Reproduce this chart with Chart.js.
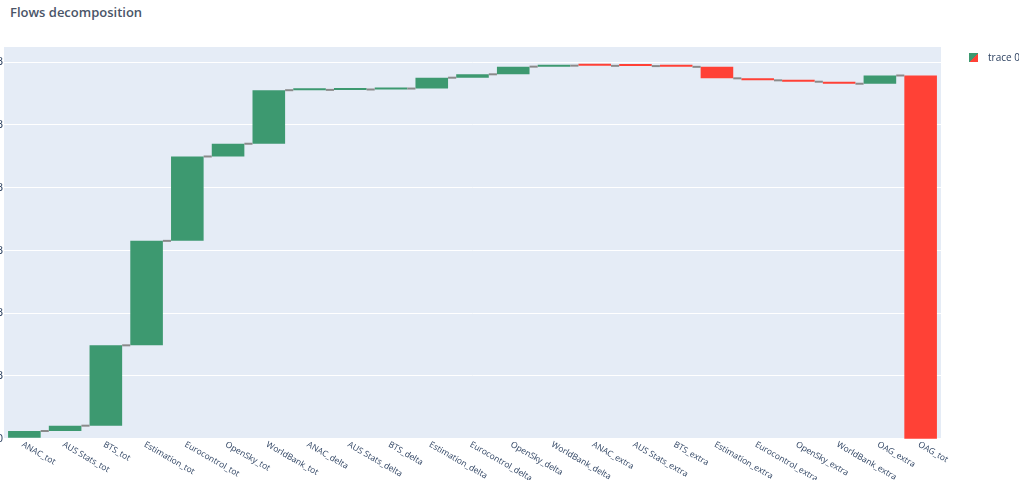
<!DOCTYPE html>
<html>
<head>
<meta charset="utf-8">
<script src="https://cdn.jsdelivr.net/npm/chart.js@4/dist/chart.umd.min.js"></script>
<style>
  html, body { margin: 0; padding: 0; background: #fff; }
  body { width: 1019px; height: 480px; position: relative; overflow: hidden; font-family: "Open Sans", Verdana, Arial, sans-serif; }
  #title { position: absolute; left: 10px; top: 3px; font-size: 13px; font-weight: 600; color: #4a5568; }
  #wrap { position: absolute; left: -14px; top: 0; width: 1033px; height: 480px; }
  #legend { position: absolute; left: 969px; top: 50px; font-size: 10px; color: #2a3f5f; display: flex; align-items: center; white-space: nowrap; }
  #legend .swatch { width: 9px; height: 9px; margin-right: 10px; background: linear-gradient(135deg, #3D9970 50%, #FF4136 50%); }
</style>
</head>
<body>
<div id="title">Flows decomposition</div>
<div id="wrap"><canvas id="flowsChart"></canvas></div>
<div id="legend"><span class="swatch"></span><span>trace 0</span></div>
<script>
// Waterfall steps, in billions
const categories = [
    'ANAC_tot', 'AUS Stats_tot', 'BTS_tot', 'Estimation_tot', 'Eurocontrol_tot', 'OpenSky_tot', 'WorldBank_tot',
    'ANAC_delta', 'AUS Stats_delta', 'BTS_delta', 'Estimation_delta', 'Eurocontrol_delta', 'OpenSky_delta', 'WorldBank_delta',
    'ANAC_extra', 'AUS Stats_extra', 'BTS_extra', 'Estimation_extra', 'Eurocontrol_extra', 'OpenSky_extra', 'WorldBank_extra',
    'OAG_extra', 'OAG_tot'
];
const deltas = [
    0.123, 0.085, 1.28, 1.664, 1.344, 0.203, 0.853,
    0.005, 0.006, 0.015, 0.173, 0.054, 0.122, 0.016,
    -0.003, -0.004, -0.012, -0.183, -0.032, -0.022, -0.032,
    0.131, -5.786
];
const yTicks = [0, 1, 2, 3, 4, 5, 6];

const increasingColor = '#3D9970';
const decreasingColor = '#FF4136';

// build floating bars from the running total
const bars = [];
let running = 0;
deltas.forEach(function(d) {
    bars.push([running, running + d]);
    running += d;
});

const plotBackground = {
    id: 'plotBackground',
    beforeDraw: function(chart) {
        const a = chart.chartArea;
        const ctx = chart.ctx;
        ctx.save();
        ctx.fillStyle = '#E5ECF6';
        ctx.fillRect(a.left, a.top, a.right - a.left, a.bottom - a.top);
        ctx.restore();
    }
};

// connector lines between consecutive bars
const connectors = {
    id: 'connectors',
    afterDatasetsDraw: function(chart) {
        const meta = chart.getDatasetMeta(0);
        const y = chart.scales.y;
        const ctx = chart.ctx;
        ctx.save();
        ctx.strokeStyle = '#8a8a8a';
        ctx.lineWidth = 2;
        for (let i = 0; i < meta.data.length - 1; i++) {
            const a = meta.data[i], b = meta.data[i + 1];
            const level = y.getPixelForValue(bars[i][1]);
            ctx.beginPath();
            ctx.moveTo(a.x + a.width / 2, level);
            ctx.lineTo(b.x - b.width / 2, level);
            ctx.stroke();
        }
        ctx.restore();
    }
};

// plotly-style slanted category labels
const slantLabels = {
    id: 'slantLabels',
    afterDraw: function(chart) {
        const x = chart.scales.x;
        const ctx = chart.ctx;
        const top = chart.chartArea.bottom + 4;
        ctx.save();
        ctx.font = '8.5px "Open Sans", Verdana, Arial, sans-serif';
        ctx.fillStyle = '#2a3f5f';
        ctx.textAlign = 'left';
        ctx.textBaseline = 'middle';
        categories.forEach(function(label, i) {
            ctx.save();
            ctx.translate(x.getPixelForValue(i) - 2, top);
            ctx.rotate(30 * Math.PI / 180);
            ctx.fillText(label, 0, 0);
            ctx.restore();
        });
        ctx.restore();
    }
};

new Chart(document.getElementById('flowsChart').getContext('2d'), {
    type: 'bar',
    data: {
        labels: categories,
        datasets: [{
            label: 'trace 0',
            data: bars,
            backgroundColor: deltas.map(function(d) { return d >= 0 ? increasingColor : decreasingColor; }),
            borderWidth: 0,
            borderSkipped: false,
            minBarLength: 2,
            categoryPercentage: 0.8,
            barPercentage: 1
        }]
    },
    options: {
        responsive: true,
        maintainAspectRatio: false,
        animation: false,
        layout: { padding: { top: 47, bottom: 32, left: 0, right: 78 } },
        plugins: {
            legend: { display: false },
            tooltip: { enabled: false }
        },
        scales: {
            x: {
                grid: { display: false },
                border: { display: false },
                ticks: { display: false }
            },
            y: {
                min: -0.02,
                max: 6.24,
                afterFit: function(scale) { scale.width = 18; },
                afterBuildTicks: function(scale) {
                    scale.ticks = yTicks.map(function(v) { return { value: v }; });
                },
                border: { display: false },
                grid: {
                    color: '#ffffff',
                    lineWidth: function(c) { return c.tick && c.tick.value === 0 ? 2 : 1; },
                    drawTicks: false
                },
                ticks: {
                    padding: 1,
                    color: '#2a3f5f',
                    font: { size: 11, family: '"Open Sans", Verdana, Arial, sans-serif' },
                    callback: function(value) { return value === 0 ? '0' : value + 'B'; }
                }
            }
        }
    },
    plugins: [plotBackground, connectors, slantLabels]
});
</script>
</body>
</html>
